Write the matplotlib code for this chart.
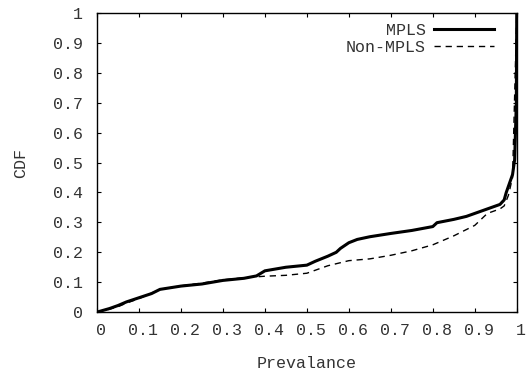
import matplotlib
matplotlib.use("Agg")
import matplotlib.pyplot as plt
import matplotlib.transforms as mtransforms

mpls_x = [0.0, 0.03, 0.05, 0.07, 0.10, 0.13, 0.15, 0.20, 0.25, 0.30, 0.35, 0.38, 0.40, 0.45, 0.50,
          0.52, 0.55, 0.57, 0.58, 0.60, 0.62, 0.65, 0.70, 0.75, 0.80, 0.81, 0.85, 0.88, 0.90, 0.93,
          0.96, 0.97, 0.975, 0.99, 0.995, 0.999, 1.0]
mpls_y = [0.0, 0.012, 0.022, 0.034, 0.048, 0.062, 0.076, 0.087, 0.094, 0.106, 0.113, 0.121, 0.138, 0.150, 0.157,
          0.170, 0.187, 0.200, 0.213, 0.232, 0.243, 0.252, 0.263, 0.273, 0.286, 0.299, 0.310, 0.320, 0.330, 0.345,
          0.360, 0.375, 0.400, 0.460, 0.510, 0.700, 1.0]

non_x = [0.0, 0.03, 0.05, 0.07, 0.10, 0.15, 0.20, 0.25, 0.30, 0.35, 0.40, 0.45, 0.50, 0.55, 0.60,
         0.65, 0.70, 0.75, 0.80, 0.85, 0.90, 0.93, 0.96, 0.97, 0.98, 0.99, 1.0]
non_y = [0.0, 0.010, 0.018, 0.030, 0.045, 0.076, 0.088, 0.097, 0.108, 0.115, 0.120, 0.123, 0.130, 0.155, 0.172,
         0.178, 0.190, 0.205, 0.225, 0.255, 0.290, 0.330, 0.345, 0.355, 0.390, 0.450, 1.0]

ticks = [0, 0.1, 0.2, 0.3, 0.4, 0.5, 0.6, 0.7, 0.8, 0.9, 1]
tick_labels = ["0", "0.1", "0.2", "0.3", "0.4", "0.5", "0.6", "0.7", "0.8", "0.9", "1"]

TXT = '#333333'
plt.rcParams['font.family'] = ['Liberation Mono', 'DejaVu Sans Mono']
fig = plt.figure(figsize=(5.3, 3.72), dpi=100)
ax = fig.add_axes([0.183, 0.161, 0.792, 0.804])

ax.plot(mpls_x, mpls_y, color='black', lw=2.2, label='MPLS')
ax.plot(non_x, non_y, color='black', lw=1.0, ls=(0, (4.5, 3.5)), label='Non-MPLS')

ax.set_xlim(0, 1)
ax.set_ylim(0, 1)
ax.set_xticks(ticks)
ax.set_xticklabels(tick_labels)
ax.set_yticks(ticks)
ax.set_yticklabels(tick_labels)
ax.tick_params(direction='in', top=True, right=True, labelsize=12, length=3.2, width=0.8, colors='black')
ax.tick_params(axis='x', labelcolor=TXT, pad=8)
ax.tick_params(axis='y', labelcolor=TXT, pad=10)
offset = mtransforms.ScaledTranslation(4 / 100, 0, fig.dpi_scale_trans)
for lbl in ax.get_xticklabels():
    lbl.set_transform(lbl.get_transform() + offset)
for s in ax.spines.values():
    s.set_linewidth(1.0)
ax.set_xlabel('Prevalance', fontsize=12, color=TXT, labelpad=13)
ax.set_ylabel('CDF', fontsize=12, color=TXT, labelpad=18)

leg = ax.legend(loc='upper right', bbox_to_anchor=(0.962, 0.989), borderaxespad=0,
                frameon=False, markerfirst=False, fontsize=12,
                handlelength=3.6, labelspacing=0.1, handletextpad=0.5)
for t in leg.get_texts():
    t.set_color(TXT)

fig.savefig('out.png', dpi=100)
